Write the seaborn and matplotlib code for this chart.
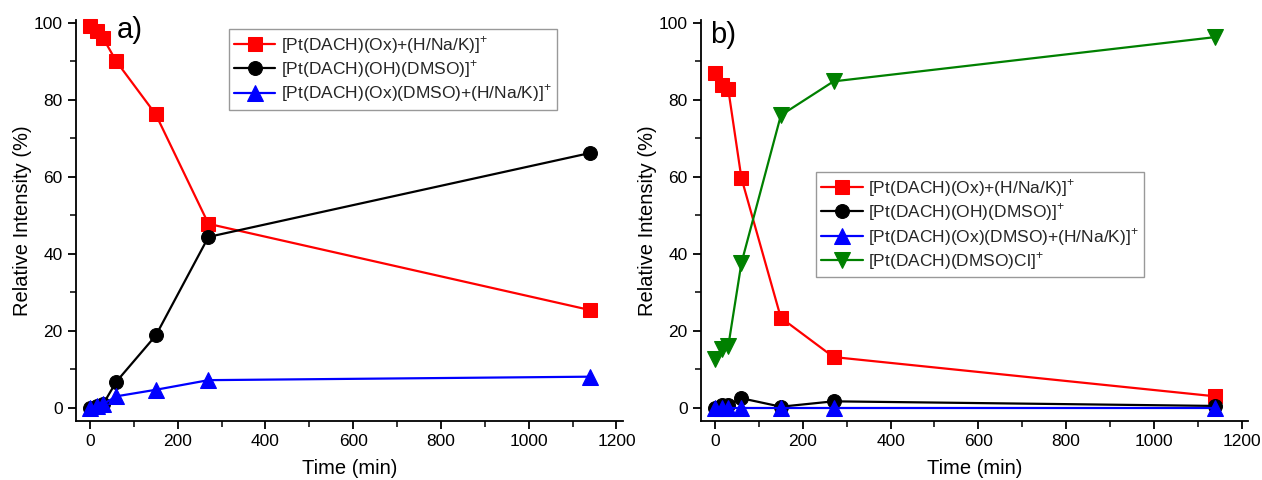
import matplotlib
matplotlib.use("Agg")
import matplotlib.pyplot as plt
from matplotlib.ticker import MultipleLocator
import seaborn as sns
import pandas as pd

sns.set_theme(style="ticks")
plt.rcParams['font.family'] = ['Liberation Sans', 'DejaVu Sans']
plt.rcParams['mathtext.fontset'] = 'custom'
plt.rcParams['mathtext.rm'] = 'Liberation Sans'

time = [0, 15, 30, 60, 150, 270, 1140]

lab_ox = "[Pt(DACH)(Ox)+(H/Na/K)]$^{+}$"
lab_oh = "[Pt(DACH)(OH)(DMSO)]$^{+}$"
lab_oxd = "[Pt(DACH)(Ox)(DMSO)+(H/Na/K)]$^{+}$"
lab_cl = "[Pt(DACH)(DMSO)Cl]$^{+}$"

a_ox = [99.2, 98.0, 96.0, 90.0, 76.2, 47.8, 25.4]
a_oh = [0.0, 0.5, 1.0, 6.8, 18.8, 44.4, 66.2]
a_oxd = [0.0, 0.5, 1.0, 3.0, 4.7, 7.2, 8.1]

b_ox = [87.0, 83.8, 82.8, 59.7, 23.4, 13.2, 3.0]
b_oh = [0.0, 0.8, 0.8, 2.5, 0.3, 1.7, 0.5]
b_oxd = [0.0, 0.0, 0.0, 0.0, 0.0, 0.0, 0.0]
b_cl = [12.8, 15.3, 16.0, 37.6, 76.0, 84.8, 96.3]

fig = plt.figure(figsize=(12.62, 4.8), dpi=100)
axa = fig.add_axes([0.0602, 0.123, 0.4335, 0.835])
axb = fig.add_axes([0.5555, 0.123, 0.4335, 0.835])

styles = [
    ("red", "s", 10),
    ("black", "o", 10),
    ("blue", "^", 11),
    ("green", "v", 11),
]

def draw(ax, series, labels):
    for (vals, lab), (col, mk, ms) in zip(zip(series, labels), styles):
        df = pd.DataFrame({"t": time, "v": vals})
        sns.lineplot(data=df, x="t", y="v", ax=ax, color=col, marker=mk,
                     markersize=ms, markeredgecolor=col, linewidth=1.6,
                     label=lab, clip_on=False)
    ax.set_xlim(-32, 1215)
    ax.set_ylim(-3.4, 100.7)
    ax.xaxis.set_major_locator(MultipleLocator(200))
    ax.xaxis.set_minor_locator(MultipleLocator(100))
    ax.yaxis.set_major_locator(MultipleLocator(20))
    ax.yaxis.set_minor_locator(MultipleLocator(10))
    ax.spines['top'].set_visible(False)
    ax.spines['right'].set_visible(False)
    for s in ('left', 'bottom'):
        ax.spines[s].set_linewidth(1.3)
        ax.spines[s].set_color('black')
    ax.tick_params(which='major', direction='out', length=6, width=1.3,
                   labelsize=12.5, colors='black')
    ax.tick_params(which='minor', direction='out', length=4, width=1.3)
    ax.set_xlabel("Time (min)", fontsize=14.5, color='black', labelpad=7)
    ax.set_ylabel("Relative Intensity (%)", fontsize=14.5, color='black',
                  labelpad=1)
    ax.set_facecolor('white')

draw(axa, [a_ox, a_oh, a_oxd], [lab_ox, lab_oh, lab_oxd])
draw(axb, [b_ox, b_oh, b_oxd, b_cl], [lab_ox, lab_oh, lab_oxd, lab_cl])

for ax, loc in ((axa, (0.279, 0.777)), (axb, (0.21, 0.359))):
    leg = ax.legend(loc='lower left', bbox_to_anchor=loc, fontsize=12.5,
                    frameon=True, fancybox=False, handlelength=2.4,
                    handletextpad=0.3, borderpad=0.3, labelspacing=0.15,
                    borderaxespad=0)
    leg.get_frame().set_edgecolor('#808080')
    leg.get_frame().set_linewidth(1.0)

axa.text(0.075, 0.975, "a)", transform=axa.transAxes, fontsize=21,
         va='center', ha='left', color='black')
axb.text(0.016, 0.962, "b)", transform=axb.transAxes, fontsize=21,
         va='center', ha='left', color='black')

fig.savefig("out.png", dpi=100, facecolor='white')
